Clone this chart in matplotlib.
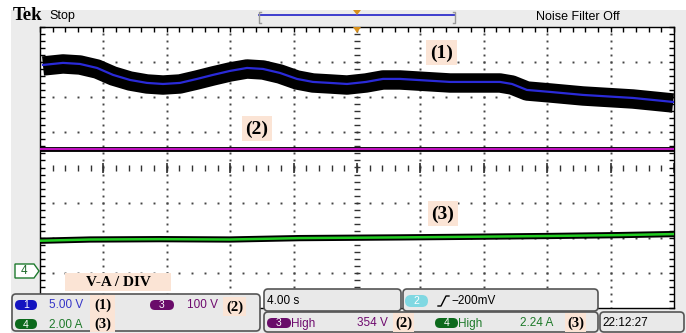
import numpy as np
import matplotlib
matplotlib.use("Agg")
import matplotlib.pyplot as plt
from matplotlib.patches import FancyBboxPatch, Rectangle, Polygon
from matplotlib.lines import Line2D
from matplotlib.transforms import Affine2D
from matplotlib.ticker import MultipleLocator

# Channel 1 (5.00 V/div) - seconds / volts
ch1_time = [0.19, 1.45, 2.52, 3.60, 4.61, 5.68, 6.75, 7.76, 8.83, 9.91, 10.91,
            11.99, 13.06, 14.07, 15.14, 16.21, 17.22, 18.30, 19.37, 20.57, 21.64,
            22.71, 25.87, 29.02, 29.78, 30.72, 32.18, 34.26, 37.41, 39.94]
ch1_volts = [29.60, 29.89, 29.74, 29.17, 28.18, 27.46, 27.04, 26.89, 27.04, 27.61,
             28.18, 28.75, 29.17, 29.03, 28.46, 27.61, 27.18, 27.04, 26.89, 27.18,
             27.61, 27.61, 27.18, 27.18, 26.89, 26.04, 25.76, 25.33, 24.90, 24.33]
# Channel 3 (100 V/div)
ch3_time = [0.0, 40.0]
ch3_volts = [354.0, 354.0]
# Channel 4 (2.00 A/div)
ch4_time = [0.0, 3.15, 7.56, 11.97, 16.4, 22.7, 27.7, 32.1, 36.5, 40.0]
ch4_amps = [1.83, 1.90, 1.92, 1.90, 1.98, 2.02, 2.06, 2.10, 2.15, 2.21]

scale_ch1, scale_ch3, scale_ch4 = 5.0, 100.0, 2.0   # units per division
ground_div = -3.0                                    # ground reference (divisions)
time_per_div = 4.0

def to_div(vals, scale):
    return np.asarray(vals) / scale + ground_div

# ---------------- figure ----------------
W, H = 686, 333
fig = plt.figure(figsize=(W / 100, H / 100), dpi=100)
fig.patch.set_facecolor("white")
T = Affine2D().scale(1.0 / W, -1.0 / H).translate(0, 1) + fig.transFigure

SANS = ["Liberation Sans", "DejaVu Sans"]
SERIF = ["Liberation Serif", "DejaVu Serif"]
PEACH = "#fbe4d5"

fig.add_artist(Rectangle((11, 10), W - 11, H - 10, transform=T,
                         facecolor="#ececec", edgecolor="none", zorder=-1))

ax = fig.add_axes([40 / W, 1 - 308 / H, 634 / W, 281 / H])
ax.set_xlim(0, 10 * time_per_div)
ax.set_ylim(-4, 4)
ax.set_facecolor("white")
for s in ax.spines.values():
    s.set_color("black")
    s.set_linewidth(1.0)
ax.xaxis.set_major_locator(MultipleLocator(time_per_div))
ax.xaxis.set_minor_locator(MultipleLocator(time_per_div / 5))
ax.yaxis.set_major_locator(MultipleLocator(1))
ax.yaxis.set_minor_locator(MultipleLocator(0.2))
ax.tick_params(which="both", direction="in", top=True, bottom=False,
               left=True, right=True, labelbottom=False, labelleft=False,
               length=3.5, width=1.0, color="black")

# graticule dots
dot_kw = dict(linestyle="none", marker="s", ms=1.4, color="#444444", mew=0, zorder=1)
xs_minor = np.arange(0, 40.01, 0.8)
for gy in [-3, -2, -1, 1, 2, 3]:
    ax.plot(xs_minor, np.full_like(xs_minor, gy), **dot_kw)
ys_minor = np.arange(-4, 4.01, 0.2)
for gx in [4, 8, 12, 16, 24, 28, 32, 36]:
    ax.plot(np.full_like(ys_minor, gx), ys_minor, **dot_kw)
# center cross with ticks
ax.plot(xs_minor, np.zeros_like(xs_minor), linestyle="none", marker="|", ms=4,
        color="#333333", mew=1.0, zorder=1)
xs_major = np.arange(0, 40.01, 4)
ax.plot(xs_major, np.zeros_like(xs_major), linestyle="none", marker="|", ms=7,
        color="#333333", mew=1.2, zorder=1)
ax.plot(np.full_like(ys_minor, 20), ys_minor, linestyle="none", marker="_", ms=4,
        color="#333333", mew=1.0, zorder=1)

# traces
y1 = to_div(ch1_volts, scale_ch1)
ax.plot(ch1_time, y1 - 0.03, color="black", lw=14, solid_capstyle="butt",
        solid_joinstyle="round", zorder=3)
ax.plot(ch1_time, y1, color="#2a2ad8", lw=1.6, zorder=4, solid_joinstyle="round")
y3 = to_div(ch3_volts, scale_ch3)
ax.plot(ch3_time, y3, color="black", lw=3.5, solid_capstyle="butt", zorder=3)
ax.plot(ch3_time, y3, color="#c010c0", lw=1.5, zorder=4)
y4 = to_div(ch4_amps, scale_ch4)
ax.plot(ch4_time, y4, color="black", lw=4.5, solid_capstyle="butt", zorder=3)
ax.plot(ch4_time, y4, color="#22cc22", lw=1.8, zorder=4)


# ---------------- helpers in pixel coords ----------------
def rbox(x0, y0, x1, y1, fc, ec="none", r=3, lw=1.0, z=2):
    p = FancyBboxPatch((x0, y0), x1 - x0, y1 - y0,
                       boxstyle=f"round,pad=0,rounding_size={r}",
                       transform=T, facecolor=fc, edgecolor=ec, lw=lw, zorder=z)
    fig.add_artist(p)


def txt(x, y, s, size=8.5, color="black", family=SANS, weight="normal",
        ha="left", va="center", z=5):
    fig.text(x, y, s, transform=T, fontsize=size, color=color, family=family,
             weight=weight, ha=ha, va=va, zorder=z)


def badge(x0, y0, x1, y1, fc, label, tc="white"):
    rbox(x0, y0, x1, y1, fc, r=(y1 - y0) / 2, z=3)
    txt((x0 + x1) / 2, (y0 + y1) / 2 + 0.5, label, size=7.5, color=tc, ha="center")


def peach(x0, y0, x1, y1):
    fig.add_artist(Rectangle((x0, y0), x1 - x0, y1 - y0, transform=T,
                             facecolor=PEACH, edgecolor="none", zorder=4))


# ---------------- top bar ----------------
txt(13, 16, "Tek", size=13.5, family=SERIF, weight="bold")
txt(49, 16.5, "Stop", size=9)
fig.add_artist(Line2D([259, 455], [15, 15], transform=T, color="#2020c8", lw=1.2, zorder=3))
fig.add_artist(Line2D([261, 259, 259, 261], [12, 12, 23, 23], transform=T,
                      color="#999999", lw=1.0, zorder=3))
fig.add_artist(Line2D([453, 455, 455, 453], [12, 12, 23, 23], transform=T,
                      color="#999999", lw=1.0, zorder=3))
fig.add_artist(Polygon([[353, 10], [361, 10], [357, 15]], transform=T,
                       facecolor="#d8901c", edgecolor="none", zorder=4))
fig.add_artist(Polygon([[353, 27], [361, 27], [357, 33]], transform=T,
                       facecolor="#d8901c", edgecolor="none", zorder=4))
txt(578, 16.5, "Noise Filter Off", size=9, ha="center")

# ---------------- in-plot labels ----------------
peach(426, 40, 457, 65)
txt(441.5, 53, "(1)", size=14, family=SERIF, weight="bold", ha="center", z=6)
peach(242, 116, 272, 141)
txt(257, 129, "(2)", size=14, family=SERIF, weight="bold", ha="center", z=6)
peach(428, 201, 458, 226)
txt(443, 214, "(3)", size=14, family=SERIF, weight="bold", ha="center", z=6)
peach(65, 273, 171, 291)
txt(118, 282.5, "V-A / DIV", size=11, family=SERIF, weight="bold", ha="center", z=6)

# channel 4 ground marker
fig.add_artist(Polygon([[15, 264], [34, 264], [39, 271], [34, 278], [15, 278]],
                       transform=T, facecolor="white", edgecolor="#1e7a2e",
                       lw=1.0, zorder=4))
txt(24, 271.5, "4", size=8.5, color="#1e6a2a", ha="center", z=6)

# ---------------- bottom-left panel ----------------
rbox(12, 294, 260, 331, "#e9e9e9", ec="#555555", r=4, lw=1.2)
badge(15, 300, 37, 310, "#1414c0", "1")
txt(49, 305.5, "5.00 V", size=8.5, color="#3434c8")
badge(15, 319, 37, 329, "#0c6a1c", "4")
txt(49, 324.5, "2.00 A", size=8.5, color="#1e7a2a")
peach(90, 295, 115, 332)
txt(102.5, 305.5, "(1)", size=10.5, family=SERIF, weight="bold", ha="center", z=6)
txt(102.5, 324.5, "(3)", size=10.5, family=SERIF, weight="bold", ha="center", z=6)
badge(150, 300, 174, 310, "#6a0c6a", "3")
txt(187, 305.5, "100 V", size=8.5, color="#6e0a6e")
peach(223, 297, 246, 316)
txt(234.5, 307.5, "(2)", size=10.5, family=SERIF, weight="bold", ha="center", z=6)

# ---------------- middle panels ----------------
rbox(264, 289, 401, 311, "#e9e9e9", ec="#555555", r=4, lw=1.2)
txt(267, 300.5, "4.00 s", size=8.5)
rbox(403, 289, 598, 311, "#e9e9e9", ec="#555555", r=4, lw=1.2)
badge(405, 295, 428, 307, "#80d8e2", "2")
fig.add_artist(Line2D([438, 441, 446, 449], [306, 306, 296, 296], transform=T,
                      color="black", lw=1.0, zorder=5))
txt(451, 301, "\u2212200mV", size=8.5)

rbox(264, 312, 598, 332, "#e9e9e9", ec="#555555", r=4, lw=1.2)
badge(267, 318, 291, 328, "#6a0c6a", "3")
txt(291, 323.5, "High", size=8.5, color="#6e0a6e")
txt(388, 323.5, "354 V", size=8.5, color="#6e0a6e", ha="right")
peach(393, 313, 414, 332)
txt(403.5, 323, "(2)", size=10.5, family=SERIF, weight="bold", ha="center", z=6)
badge(435, 318, 458, 328, "#0c6a1c", "4")
txt(458, 323.5, "High", size=8.5, color="#1e7a2a")
txt(553, 323.5, "2.24 A", size=8.5, color="#1e7a2a", ha="right")
peach(565, 313, 586, 332)
txt(575.5, 323, "(3)", size=10.5, family=SERIF, weight="bold", ha="center", z=6)

rbox(600, 312, 684, 332, "#e9e9e9", ec="#555555", r=4, lw=1.2)
txt(602, 323, "22:12:27", size=8.5)

fig.savefig("out.png", dpi=100, facecolor=fig.get_facecolor())
